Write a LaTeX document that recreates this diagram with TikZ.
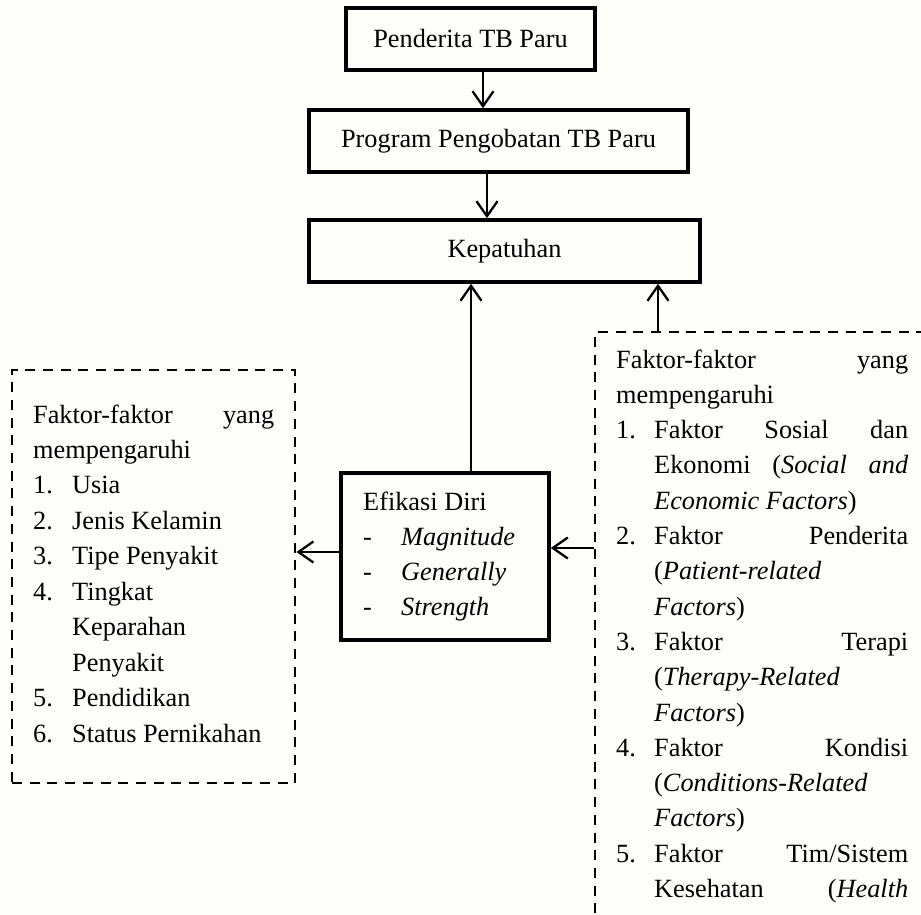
\documentclass[tikz,border=0pt]{standalone}
\usepackage{fontspec}
\setmainfont{Liberation Serif}
\usetikzlibrary{arrows.meta}
\definecolor{bgc}{RGB}{253,253,249}
\begin{document}
\begin{tikzpicture}[x=1pt,y=-1pt,
  font=\fontsize{26.3}{35}\selectfont,
  box/.style={draw, line width=3.6pt, inner sep=0pt},
  dbox/.style={draw, line width=2.8pt, dash pattern=on 10pt off 7.7pt, inner sep=0pt},
  arr/.style={line width=2.3pt, -{Straight Barb[length=15pt,width=21pt,line width=2.3pt]}},
  txt/.style={anchor=base west, inner sep=0pt}]
\fill[bgc] (0,0) rectangle (921,915);
\useasboundingbox (0,0) rectangle (921,915);
\clip (0,0) rectangle (921,915);

% solid boxes
\node[box, minimum width=249pt, minimum height=62pt] (b1) at (470.5,39) {Penderita TB Paru};
\node[box, minimum width=379pt, minimum height=62pt] (b2) at (498.5,141) {Program Pengobatan TB Paru};
\node[box, minimum width=391pt, minimum height=62pt] (b3) at (504.5,251) {Kepatuhan};
\node[box, minimum width=208pt, minimum height=167pt] (ef) at (445,556.5) {};

% dashed boxes
\node[dbox, minimum width=283pt, minimum height=413pt] (ld) at (153.5,576.5) {};
\node[dbox, minimum width=365pt, minimum height=628pt] (rd) at (777.5,646) {};

% arrows
\draw[arr] (483,0 |- b1.south) -- (483,0 |- b2.north);
\draw[arr] (487,0 |- b2.south) -- (487,0 |- b3.north);
\draw[arr] (471,0 |- ef.north) -- (471,0 |- b3.south);
\draw[arr] (658,0 |- rd.north) -- (658,0 |- b3.south);
\draw[arr] (ef.west |- 0,552) -- (ld.east |- 0,552);
\draw[arr] (rd.west |- 0,548) -- (ef.east |- 0,548);

% centre box text
\node[txt] (e1) at (363,510) {Efikasi Diri};
\node[txt] (e2a) at (363,545) {-};
\node[txt] (e2b) at (401,545) {\textit{Magnitude}};
\node[txt] (e3a) at (363,580) {-};
\node[txt] (e3b) at (401,580) {\textit{Generally}};
\node[txt] (e4a) at (363,615) {-};
\node[txt] (e4b) at (401,615) {\textit{Strength}};

% left box text
\node[txt] (l1) at (33,423) {\makebox[241pt][s]{Faktor-faktor yang}};
\node[txt] (l2) at (33,458.4) {mempengaruhi};
\node[txt] (l3n) at (33,493.9) {1.};
\node[txt] (l3) at (72,493.9) {Usia};
\node[txt] (l4n) at (33,529.3) {2.};
\node[txt] (l4) at (72,529.3) {Jenis Kelamin};
\node[txt] (l5n) at (33,564.8) {3.};
\node[txt] (l5) at (72,564.8) {Tipe Penyakit};
\node[txt] (l6n) at (33,600.2) {4.};
\node[txt] (l6) at (72,600.2) {Tingkat};
\node[txt] (l7) at (72,635.6) {Keparahan};
\node[txt] (l8) at (72,671.1) {Penyakit};
\node[txt] (l9n) at (33,706.5) {5.};
\node[txt] (l9) at (72,706.5) {Pendidikan};
\node[txt] (l10n) at (33,742) {6.};
\node[txt] (l10) at (72,742) {Status Pernikahan};

% right box text
\node[txt] (r1) at (616,368) {\makebox[292pt][s]{Faktor-faktor yang}};
\node[txt] (r2) at (616,403.3) {mempengaruhi};
\node[txt] (r3n) at (616,438.6) {1.};
\node[txt] (r3) at (654,438.6) {\makebox[254pt][s]{Faktor Sosial dan}};
\node[txt] (r4) at (654,473.9) {\makebox[254pt][s]{Ekonomi (\textit{Social and}}};
\node[txt] (r5) at (654,509.2) {\textit{Economic Factors})};
\node[txt] (r6n) at (616,544.5) {2.};
\node[txt] (r6) at (654,544.5) {\makebox[254pt][s]{Faktor Penderita}};
\node[txt] (r7) at (654,579.8) {(\textit{Patient-related}};
\node[txt] (r8) at (654,615.1) {\textit{Factors})};
\node[txt] (r9n) at (616,650.4) {3.};
\node[txt] (r9) at (654,650.4) {\makebox[254pt][s]{Faktor Terapi}};
\node[txt] (r10) at (654,685.7) {(\textit{Therapy-Related}};
\node[txt] (r11) at (654,721) {\textit{Factors})};
\node[txt] (r12n) at (616,756.3) {4.};
\node[txt] (r12) at (654,756.3) {\makebox[254pt][s]{Faktor Kondisi}};
\node[txt] (r13) at (654,791.6) {(\textit{Conditions-Related}};
\node[txt] (r14) at (654,826.9) {\textit{Factors})};
\node[txt] (r15n) at (616,862.2) {5.};
\node[txt] (r15) at (654,862.2) {\makebox[254pt][s]{Faktor Tim/Sistem}};
\node[txt] (r16) at (654,897.5) {\makebox[254pt][s]{Kesehatan (\textit{Health}}};
\end{tikzpicture}
\end{document}
